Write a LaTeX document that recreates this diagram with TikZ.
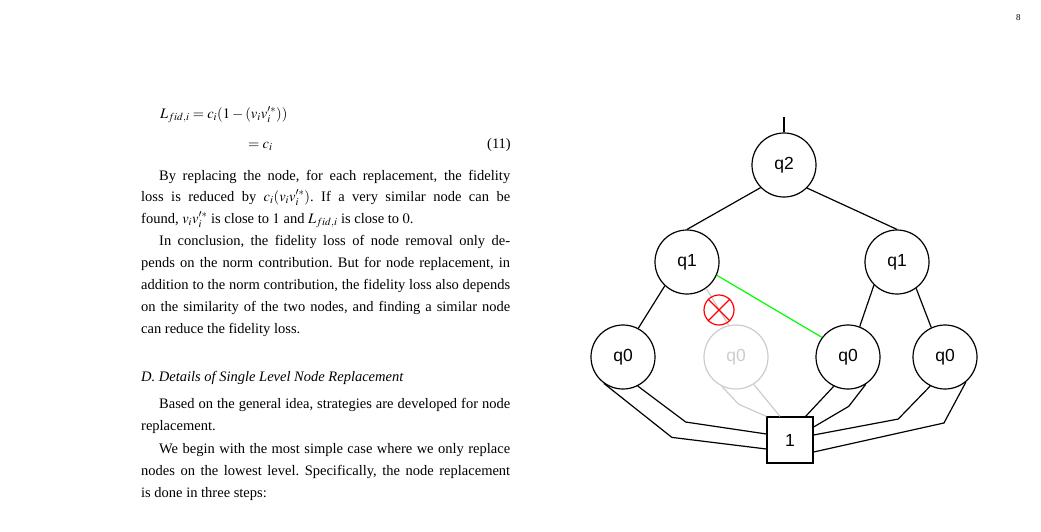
\documentclass[tikz,border=0pt]{standalone}
\usepackage{mathptmx}
\usepackage{fontspec}
\setmainfont{Liberation Serif}
\newfontfamily\lsans{Liberation Sans}
\frenchspacing
\begin{document}
\begin{tikzpicture}[x=1pt,y=-1pt,
  txt/.style={anchor=base west,inner sep=0pt,font=\fontsize{14.5}{18}\selectfont},
  st/.style={circle,draw,line width=1.2pt,minimum size=64pt,inner sep=0pt,font=\lsans\fontsize{17.5}{20}\selectfont},
  gst/.style={st,draw=black!20,text=black!20},
  ed/.style={line width=1.2pt},
  ged/.style={line width=1.2pt,draw=black!20}]
\useasboundingbox (0,0) rectangle (1041,531);
% text
\node[txt] (pg) at (1016,20) {\fontsize{9}{10}\selectfont 8};
\node[txt] (e1) at (160,118) {$L_{fid,i}=c_i(1-(v_iv_i'^{*}))$};
\node[txt] (e2) at (248,148) {$=c_i$};
\node[txt,anchor=base east] (e3) at (511,148) {(11)};
\node[txt] (l1) at (159,180) {\makebox[351pt][s]{By replacing the node, for each replacement, the fidelity}};
\node[txt] (l2) at (141,201) {\makebox[369pt][s]{loss is reduced by $c_i(v_iv_i'^{*})$. If a very similar node can be}};
\node[txt] (l3) at (141,223) {found, $v_iv_i'^{*}$ is close to $1$ and $L_{fid,i}$ is close to $0$.};
\node[txt] (l4) at (159,245) {\makebox[351pt][s]{In conclusion, the fidelity loss of node removal only de-}};
\node[txt] (l5) at (141,267) {\makebox[369pt][s]{pends on the norm contribution. But for node replacement, in}};
\node[txt] (l6) at (141,289) {\makebox[369pt][s]{addition to the norm contribution, the fidelity loss also depends}};
\node[txt] (l7) at (141,311) {\makebox[369pt][s]{on the similarity of the two nodes, and finding a similar node}};
\node[txt] (l8) at (141,333) {can reduce the fidelity loss.};
\node[txt] (h) at (141,381) {\textit{D. Details of Single Level Node Replacement}};
\node[txt] (l9) at (159,408) {\makebox[351pt][s]{Based on the general idea, strategies are developed for node}};
\node[txt] (l10) at (141,430) {replacement.};
\node[txt] (l11) at (159,453) {\makebox[351pt][s]{We begin with the most simple case where we only replace}};
\node[txt] (l12) at (141,475) {\makebox[369pt][s]{nodes on the lowest level. Specifically, the node replacement}};
\node[txt] (l13) at (141,497) {is done in three steps:};
% diagram
\node[st] (q2) at (784,165) {q2};
\node[st] (q1a) at (687,262) {q1};
\node[st] (q1b) at (897,262) {q1};
\node[st] (q0a) at (623,357) {q0};
\node[gst] (q0b) at (736,357) {q0};
\node[st] (q0c) at (848,357) {q0};
\node[st] (q0d) at (945,357) {q0};
\node[draw,line width=1.2pt,minimum size=46pt,inner sep=0pt,font=\lsans\fontsize{17.5}{20}\selectfont] (one) at (790,440) {1};
\coordinate (top) at (784,117);
\draw[ed] (top) -- (q2.north);
\draw[ed] (q2.224) -- (q1a.north);
\draw[ed] (q2.315) -- (q1b.north);
\draw[ed] (q1a.227) -- (q0a.62);
\draw[ged] (q1a.306) -- (q0b.103);
\draw[line width=1.2pt,green] (q1a.336) -- (q0c.143);
\draw[ed] (q1b.225) -- (q0c.69);
\draw[ed] (q1b.306) -- (q0d.115);
\node[circle,draw=red,line width=1.2pt,minimum size=30pt,inner sep=0pt] (x) at (719,310) {};
\draw[red,line width=1.2pt] (x.45) -- (x.225) (x.135) -- (x.315);
% bottom edges
\draw[ed] (q0a.234) -- ++(68,54) -- ([yshift=-9pt]one.west);
\draw[ed] (q0a.297) -- ++(48,36) -- ([yshift=6pt]one.west);
\draw[ged] (q0b.244) -- ++(17,18) -- (one.north west);
\draw[ged] (q0b.303) -- ([xshift=-10pt]one.north);
\draw[ed] (q0c.244) -- ([xshift=-8pt]one.north east);
\draw[ed] (q0c.303) -- ++(-17,22) -- ([yshift=13pt]one.east);
\draw[ed] (q0d.243) -- ++(-32,33) -- ([yshift=5pt]one.east);
\draw[ed] (q0d.310) -- ++(-22,41) -- ([yshift=-12pt]one.east);
\end{tikzpicture}
\end{document}
